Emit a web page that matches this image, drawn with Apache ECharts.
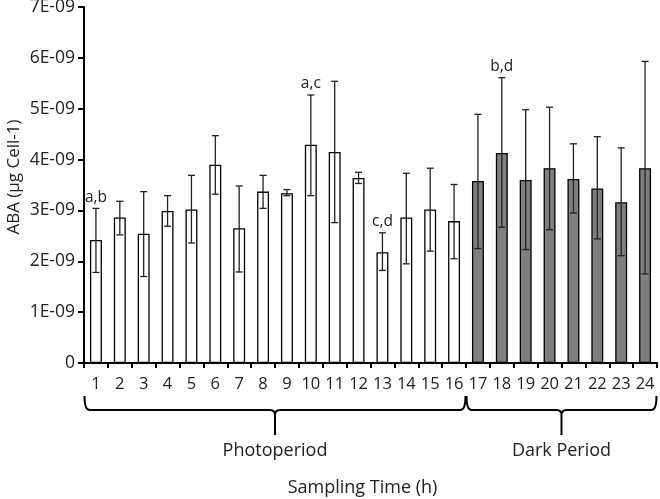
<!DOCTYPE html>
<html>
<head>
<meta charset="utf-8">
<script src="https://cdn.jsdelivr.net/npm/echarts@6/dist/echarts.min.js"></script>
<style>
html,body{margin:0;padding:0;background:#fff;}
#chart{width:660px;height:499px;}
</style>
</head>
<body>
<div id="chart"></div>
<script>
// ---- data ----
const categories = ['1','2','3','4','5','6','7','8','9','10','11','12','13','14','15','16','17','18','19','20','21','22','23','24'];
const abaMean  = [2.42e-9,2.86e-9,2.54e-9,2.99e-9,3.02e-9,3.90e-9,2.65e-9,3.37e-9,3.34e-9,4.29e-9,4.15e-9,3.64e-9,2.18e-9,2.86e-9,3.02e-9,2.79e-9,3.58e-9,4.13e-9,3.60e-9,3.83e-9,3.62e-9,3.43e-9,3.16e-9,3.83e-9];
const errUpper = [3.04e-9,3.18e-9,3.37e-9,3.29e-9,3.69e-9,4.47e-9,3.48e-9,3.69e-9,3.41e-9,5.27e-9,5.54e-9,3.75e-9,2.56e-9,3.73e-9,3.83e-9,3.51e-9,4.89e-9,5.61e-9,4.98e-9,5.03e-9,4.31e-9,4.45e-9,4.23e-9,5.93e-9];
const errLower = [1.78e-9,2.52e-9,1.70e-9,2.69e-9,2.36e-9,3.32e-9,1.79e-9,3.04e-9,3.29e-9,3.29e-9,2.76e-9,3.53e-9,1.82e-9,1.95e-9,2.20e-9,2.05e-9,2.25e-9,2.67e-9,2.23e-9,2.62e-9,2.95e-9,2.44e-9,2.11e-9,1.75e-9];
const sigLetters = ['a,b','','','','','','','','','a,c','','','c,d','','','','','b,d','','','','','',''];
const periodNames = ['Photoperiod','Dark Period'];
const periodStart = [0, 16];
const periodEnd = [15, 23];
const yTickMax = 7e-9;
const yTickStep = 1e-9;

// ---- styles ----
const FONT = 'Open Sans';
const TXT = '#222';
const periodFill = ['#ffffff', '#7f7f7f'];

function periodOf(i){
  for (let p = 0; p < periodStart.length; p++) if (i >= periodStart[p] && i <= periodEnd[p]) return p;
  return 0;
}

const chart = echarts.init(document.getElementById('chart'), null, {renderer:'canvas'});
chart.setOption({
  animation: false,
  backgroundColor: '#fff',
  grid: {left: 84, right: 3, top: 7, bottom: 136, containLabel: false, outerBoundsMode: 'none'},
  xAxis: {
    type: 'category',
    data: categories,
    axisLine: {show: true, lineStyle: {color: '#000', width: 2}},
    axisTick: {show: true, length: 5, lineStyle: {color: '#000', width: 2}},
    axisLabel: {color: TXT, fontSize: 16.5, fontFamily: FONT, margin: 13, interval: 0},
    splitLine: {show: false},
    name: 'Sampling Time (h)',
    nameLocation: 'middle',
    nameGap: 125,
    nameMoveOverlap: false,
    nameTextStyle: {color: TXT, fontSize: 18, fontFamily: FONT, padding: [0, 16, 0, 0], verticalAlign: 'middle'}
  },
  yAxis: {
    type: 'value',
    min: 0,
    max: yTickMax,
    interval: yTickStep,
    axisLine: {show: true, lineStyle: {color: '#000', width: 2}},
    axisTick: {show: true, length: 6, lineStyle: {color: '#000', width: 2}},
    splitLine: {show: false},
    axisLabel: {
      color: TXT, fontSize: 17.5, fontFamily: FONT, margin: 9,
      formatter: function(v){
        const n = Math.round(v / 1e-9);
        return n === 0 ? '0' : n + 'E-09';
      }
    },
    name: 'ABA (µg Cell-1)',
    nameLocation: 'middle',
    nameGap: 70,
    nameMoveOverlap: false,
    nameTextStyle: {color: TXT, fontSize: 17, fontFamily: FONT, padding: [0, 0, 0, 16], verticalAlign: 'middle'}
  },
  series: [
    {
      type: 'bar',
      barWidth: '50%',
      data: abaMean.map((v, i) => ({
        value: v,
        itemStyle: {color: periodFill[periodOf(i)], borderColor: '#000', borderWidth: 1.3}
      })),
      z: 2
    },
    {
      type: 'custom',
      z: 3,
      clip: false,
      encode: {x: 0, y: [1, 2]},
      data: categories.map((c, i) => [i, errLower[i], errUpper[i]]),
      renderItem: function(params, api){
        const i = api.value(0);
        const lo = api.coord([i, api.value(1)]);
        const hi = api.coord([i, api.value(2)]);
        const cap = 3.5;
        const ls = {stroke: '#222', lineWidth: 1.3};
        const children = [
          {type: 'line', shape: {x1: hi[0], y1: hi[1], x2: lo[0], y2: lo[1]}, style: ls},
          {type: 'line', shape: {x1: hi[0]-cap, y1: hi[1], x2: hi[0]+cap, y2: hi[1]}, style: ls},
          {type: 'line', shape: {x1: lo[0]-cap, y1: lo[1], x2: lo[0]+cap, y2: lo[1]}, style: ls}
        ];
        const letter = sigLetters[params.dataIndex];
        if (letter) {
          children.push({type: 'text', style: {text: letter, x: hi[0], y: hi[1]-3, align: 'center', verticalAlign: 'bottom', fill: TXT, fontSize: 15.5, fontFamily: FONT}});
        }
        return {type: 'group', children: children};
      }
    },
    {
      type: 'custom',
      z: 3,
      clip: false,
      silent: true,
      encode: {x: [0, 1], y: 2},
      data: periodNames.map((n, p) => [periodStart[p], periodEnd[p], 0]),
      renderItem: function(params, api){
        const bw = api.size([1, 0])[0];
        const s = api.coord([api.value(0), 0]);
        const e = api.coord([api.value(1), 0]);
        const x0 = s[0] - bw/2 + 0.5, x1 = e[0] + bw/2 - 0.5;
        const y0 = s[1];
        const yTop = y0 + 33, yMid = y0 + 47, yTip = y0 + 72;
        const xc = (x0 + x1) / 2;
        const r = 5;
        const d = 'M' + x0 + ' ' + yTop +
          ' Q' + x0 + ' ' + yMid + ' ' + (x0 + r) + ' ' + yMid +
          ' L' + (xc - r) + ' ' + yMid +
          ' Q' + xc + ' ' + yMid + ' ' + xc + ' ' + (yMid + r) +
          ' L' + xc + ' ' + yTip +
          ' M' + xc + ' ' + (yMid + r) +
          ' Q' + xc + ' ' + yMid + ' ' + (xc + r) + ' ' + yMid +
          ' L' + (x1 - r) + ' ' + yMid +
          ' Q' + x1 + ' ' + yMid + ' ' + x1 + ' ' + yTop;
        return {type: 'group', children: [
          {type: 'path', shape: {pathData: d}, style: {stroke: '#000', lineWidth: 2, fill: null}},
          {type: 'text', style: {text: periodNames[params.dataIndex], x: xc, y: y0 + 88, align: 'center', verticalAlign: 'middle', fill: TXT, fontSize: 18, fontFamily: FONT}}
        ]};
      }
    }
  ]
});
</script>
</body>
</html>
